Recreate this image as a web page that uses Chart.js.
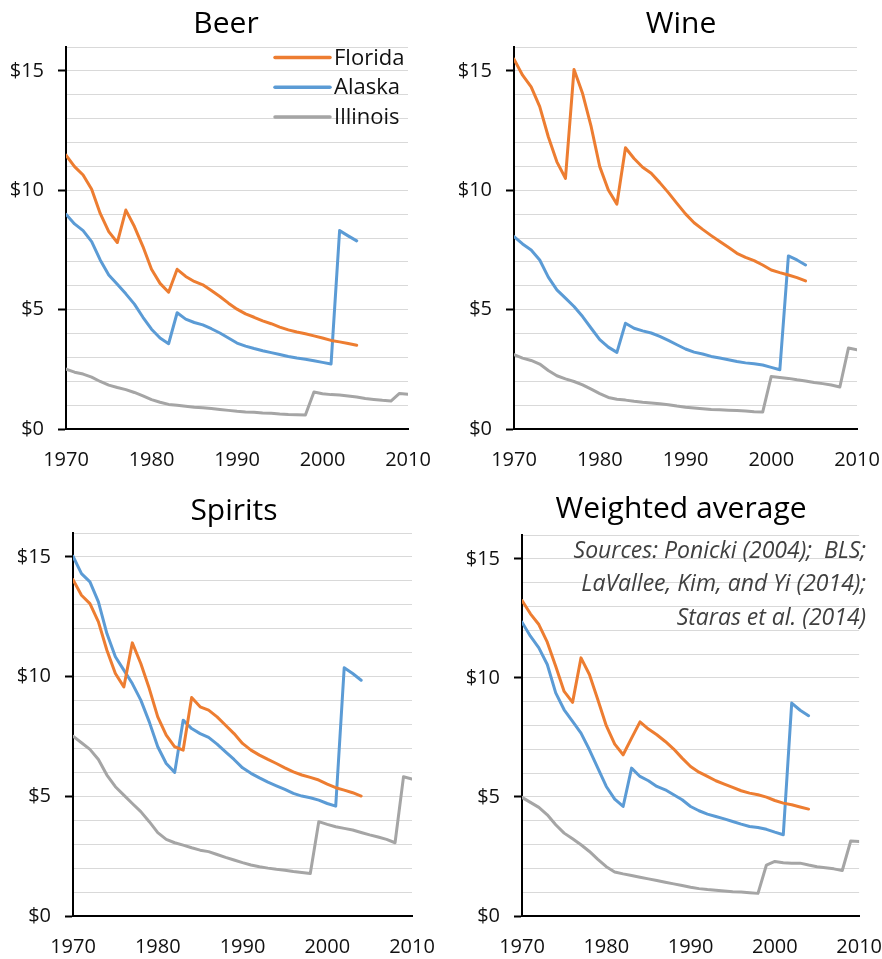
<!DOCTYPE html>
<html>
<head>
<meta charset="utf-8">
<title>Alcohol tax per gallon</title>
<script src="https://cdn.jsdelivr.net/npm/chart.js@4.4.1/dist/chart.umd.min.js"></script>
<style>
	body { margin: 0; background: #fff; overflow: hidden; }
	.panel { position: absolute; }
</style>
</head>
<body>
<div class="panel" id="panel-beer"><canvas id="chart-beer"></canvas></div>
<div class="panel" id="panel-wine"><canvas id="chart-wine"></canvas></div>
<div class="panel" id="panel-spirits"><canvas id="chart-spirits"></canvas></div>
<div class="panel" id="panel-weighted"><canvas id="chart-weighted"></canvas></div>
<script>
const years = [1970, 1971, 1972, 1973, 1974, 1975, 1976, 1977, 1978, 1979,
	1980, 1981, 1982, 1983, 1984, 1985, 1986, 1987, 1988, 1989,
	1990, 1991, 1992, 1993, 1994, 1995, 1996, 1997, 1998, 1999,
	2000, 2001, 2002, 2003, 2004, 2005, 2006, 2007, 2008, 2009, 2010];
const xTicks = [1970, 1980, 1990, 2000, 2010];
const states = ['Florida', 'Alaska', 'Illinois'];
const stateColors = ['#ED7D31', '#5B9BD5', '#A5A5A5'];
const sourceLines = ['Sources: Ponicki (2004);  BLS;', 'LaVallee, Kim, and Yi (2014);', 'Staras et al. (2014)'];

// dollars, 1970 onwards (Florida and Alaska stop at 2004)
const beerFlorida = [11.47, 10.99, 10.64, 10.04, 9.03, 8.27, 7.81, 9.17, 8.48, 7.64,
	6.69, 6.10, 5.73, 6.69, 6.39, 6.18, 6.04, 5.80, 5.55, 5.27,
	5.02, 4.82, 4.68, 4.53, 4.41, 4.27, 4.15, 4.06, 3.99, 3.90,
	3.81, 3.71, 3.65, 3.58, 3.51];
const beerAlaska = [8.99, 8.59, 8.31, 7.85, 7.08, 6.45, 6.06, 5.66, 5.23, 4.68,
	4.18, 3.81, 3.57, 4.87, 4.60, 4.46, 4.36, 4.20, 4.02, 3.81,
	3.60, 3.47, 3.37, 3.28, 3.20, 3.12, 3.04, 2.97, 2.92, 2.86,
	2.79, 2.72, 8.31, 8.09, 7.88];
const beerIllinois = [2.51, 2.38, 2.30, 2.17, 1.99, 1.84, 1.74, 1.65, 1.53, 1.39,
	1.23, 1.12, 1.03, 0.99, 0.95, 0.91, 0.89, 0.86, 0.82, 0.78,
	0.74, 0.71, 0.70, 0.67, 0.66, 0.63, 0.61, 0.60, 0.59, 1.55,
	1.48, 1.44, 1.42, 1.38, 1.34, 1.28, 1.24, 1.20, 1.17, 1.49,
	1.46];

const wineFlorida = [15.49, 14.82, 14.33, 13.50, 12.24, 11.19, 10.50, 15.06, 14.05, 12.66,
	10.99, 10.01, 9.42, 11.78, 11.33, 10.96, 10.71, 10.32, 9.90, 9.45,
	9.01, 8.64, 8.36, 8.10, 7.85, 7.61, 7.36, 7.19, 7.05, 6.87,
	6.66, 6.55, 6.45, 6.34, 6.20];
const wineAlaska = [8.06, 7.75, 7.50, 7.08, 6.36, 5.83, 5.48, 5.13, 4.71, 4.22,
	3.74, 3.43, 3.21, 4.43, 4.22, 4.11, 4.02, 3.88, 3.71, 3.53,
	3.35, 3.22, 3.14, 3.04, 2.97, 2.90, 2.83, 2.77, 2.73, 2.68,
	2.58, 2.48, 7.25, 7.08, 6.87];
const wineIllinois = [3.11, 2.97, 2.87, 2.72, 2.45, 2.23, 2.10, 1.99, 1.85, 1.67,
	1.48, 1.32, 1.25, 1.21, 1.16, 1.12, 1.09, 1.06, 1.02, 0.96,
	0.91, 0.88, 0.85, 0.82, 0.81, 0.79, 0.77, 0.75, 0.72, 0.71,
	2.20, 2.16, 2.12, 2.06, 2.01, 1.95, 1.90, 1.84, 1.76, 3.39,
	3.32];

const spiritsFlorida = [14.05, 13.40, 13.05, 12.29, 11.10, 10.13, 9.57, 11.41, 10.55, 9.50,
	8.32, 7.56, 7.07, 6.93, 9.13, 8.74, 8.60, 8.32, 7.97, 7.62,
	7.21, 6.93, 6.72, 6.54, 6.37, 6.19, 6.02, 5.89, 5.79, 5.68,
	5.51, 5.36, 5.26, 5.15, 5.01];
const spiritsAlaska = [15.03, 14.30, 13.96, 13.12, 11.80, 10.83, 10.27, 9.71, 9.02, 8.11,
	7.07, 6.37, 6.00, 8.18, 7.83, 7.62, 7.46, 7.18, 6.86, 6.54,
	6.19, 5.96, 5.77, 5.59, 5.44, 5.29, 5.12, 5.01, 4.94, 4.84,
	4.70, 4.59, 10.37, 10.13, 9.85];
const spiritsIllinois = [7.51, 7.24, 6.96, 6.54, 5.89, 5.40, 5.05, 4.70, 4.36, 3.94,
	3.48, 3.20, 3.06, 2.96, 2.85, 2.75, 2.69, 2.57, 2.45, 2.34,
	2.23, 2.13, 2.06, 2.00, 1.95, 1.91, 1.86, 1.82, 1.78, 3.94,
	3.83, 3.73, 3.66, 3.59, 3.49, 3.39, 3.30, 3.20, 3.06, 5.82,
	5.72];

const weightedFlorida = [13.25, 12.69, 12.24, 11.50, 10.49, 9.43, 8.97, 10.84, 10.14, 9.08,
	7.99, 7.22, 6.77, 7.47, 8.15, 7.85, 7.61, 7.33, 7.01, 6.63,
	6.28, 6.04, 5.86, 5.68, 5.54, 5.40, 5.26, 5.16, 5.09, 4.99,
	4.85, 4.74, 4.67, 4.58, 4.49];
const weightedAlaska = [12.34, 11.75, 11.26, 10.56, 9.37, 8.66, 8.17, 7.68, 6.98, 6.21,
	5.44, 4.91, 4.60, 6.21, 5.86, 5.68, 5.44, 5.30, 5.09, 4.88,
	4.60, 4.42, 4.28, 4.18, 4.08, 3.97, 3.86, 3.76, 3.72, 3.64,
	3.52, 3.41, 8.94, 8.64, 8.41];
const weightedIllinois = [4.98, 4.77, 4.56, 4.25, 3.83, 3.48, 3.24, 2.99, 2.71, 2.38,
	2.07, 1.85, 1.77, 1.70, 1.63, 1.56, 1.49, 1.42, 1.35, 1.28,
	1.21, 1.15, 1.11, 1.08, 1.05, 1.02, 1.01, 0.98, 0.95, 2.14,
	2.29, 2.24, 2.22, 2.22, 2.14, 2.07, 2.03, 1.98, 1.91, 3.15,
	3.13];

const FONT = '"Open Sans", "Noto Sans", sans-serif';

// panel title, plus the legend (beer) and the sources note (weighted)
const panelText = {
	id: 'panelText',
	afterDraw(chart, args, opts) {
		const ctx = chart.ctx;
		const area = chart.chartArea;
		ctx.save();
		ctx.font = '30px ' + FONT;
		ctx.fillStyle = '#000';
		ctx.textAlign = 'center';
		ctx.textBaseline = 'alphabetic';
		ctx.fillText(opts.title, opts.titleX, opts.titleY);

		if (opts.legend) {
			ctx.font = '22px ' + FONT;
			ctx.textBaseline = 'middle';
			ctx.textAlign = 'left';
			chart.data.datasets.forEach((ds, i) => {
				const y = area.top + opts.legend.y + i * opts.legend.row;
				const x0 = area.left + opts.legend.x;
				ctx.strokeStyle = ds.borderColor;
				ctx.lineWidth = 3.5;
				ctx.lineCap = 'round';
				ctx.beginPath();
				ctx.moveTo(x0, y);
				ctx.lineTo(x0 + opts.legend.len, y);
				ctx.stroke();
				ctx.fillStyle = '#111';
				ctx.fillText(ds.label, x0 + opts.legend.len + 4, y + 1);
			});
		}
		if (opts.note) {
			ctx.font = 'italic 23px ' + FONT;
			ctx.textBaseline = 'middle';
			ctx.textAlign = 'right';
			ctx.fillStyle = '#404040';
			opts.note.lines.forEach((line, i) => {
				ctx.fillText(line, area.right + opts.note.dx, area.top + opts.note.y + i * opts.note.row);
			});
		}
		ctx.restore();
	}
};

function makePanel(id, title, series, box, extra) {
	const panel = document.getElementById('panel-' + id);
	panel.style.left = box.left + 'px';
	panel.style.top = box.top + 'px';
	panel.style.width = box.width + 'px';
	panel.style.height = box.height + 'px';

	return new Chart(document.getElementById('chart-' + id), {
		type: 'line',
		data: {
			datasets: series.map((values, i) => ({
				label: states[i],
				data: values.map((v, j) => ({ x: years[j], y: v })),
				borderColor: stateColors[i],
				backgroundColor: stateColors[i],
				borderWidth: 3,
				pointRadius: 0,
				tension: 0,
				borderJoinStyle: 'round',
				borderCapStyle: 'round'
			}))
		},
		options: {
			responsive: true,
			maintainAspectRatio: false,
			animation: false,
			layout: {
				autoPadding: false,
				padding: { left: 0, right: box.padRight, top: 47, bottom: 0 }
			},
			plugins: {
				legend: { display: false },
				tooltip: { enabled: false },
				title: { display: false },
				panelText: Object.assign({ title: title, titleX: box.titleX, titleY: box.titleY }, extra)
			},
			scales: {
				x: {
					type: 'linear',
					min: 1970,
					max: 2010,
					afterBuildTicks: (s) => { s.ticks = xTicks.map(v => ({ value: v })); },
					afterFit: (s) => { s.height = 42; },
					grid: { display: false, drawTicks: false, tickLength: 0 },
					border: { display: true, color: '#000', width: 2 },
					ticks: {
						color: '#111',
						padding: 19,
						maxRotation: 0,
						font: { family: FONT, size: 20 },
						callback: (v) => String(v)
					}
				},
				y: {
					min: 0,
					max: 16,
					afterFit: (s) => { s.width = box.axisWidth; },
					grid: {
						color: '#D9D9D9',
						lineWidth: 1,
						drawTicks: true,
						tickLength: 8,
						tickWidth: 2,
						tickColor: (c) => (c.tick && c.tick.value % 5 === 0) ? '#000' : 'rgba(0,0,0,0)'
					},
					border: { display: true, color: '#000', width: 2 },
					ticks: {
						stepSize: 1,
						autoSkip: false,
						maxTicksLimit: 30,
						color: '#111',
						padding: 14,
						font: { family: FONT, size: 20 },
						callback: (v) => v % 5 === 0 ? '$' + v : ''
					}
				}
			}
		},
		plugins: [panelText]
	});
}

makePanel('beer', 'Beer', [beerFlorida, beerAlaska, beerIllinois],
	{ left: 0, top: 0, width: 460, height: 471, padRight: 52, axisWidth: 66, titleX: 226, titleY: 33 },
	{ legend: { x: 209, y: 10.5, row: 29.7, len: 55 } });

makePanel('wine', 'Wine', [wineFlorida, wineAlaska, wineIllinois],
	{ left: 441, top: 0, width: 460, height: 471, padRight: 44, axisWidth: 73, titleX: 240, titleY: 33 });

makePanel('spirits', 'Spirits', [spiritsFlorida, spiritsAlaska, spiritsIllinois],
	{ left: 0, top: 486, width: 460, height: 472, padRight: 48, axisWidth: 73, titleX: 234, titleY: 34 });

makePanel('weighted', 'Weighted average', [weightedFlorida, weightedAlaska, weightedIllinois],
	{ left: 441, top: 488, width: 460, height: 470, padRight: 41, axisWidth: 81, titleX: 240, titleY: 30 },
	{ note: { lines: sourceLines, dx: 7, y: 16, row: 33.5 } });
</script>
</body>
</html>
